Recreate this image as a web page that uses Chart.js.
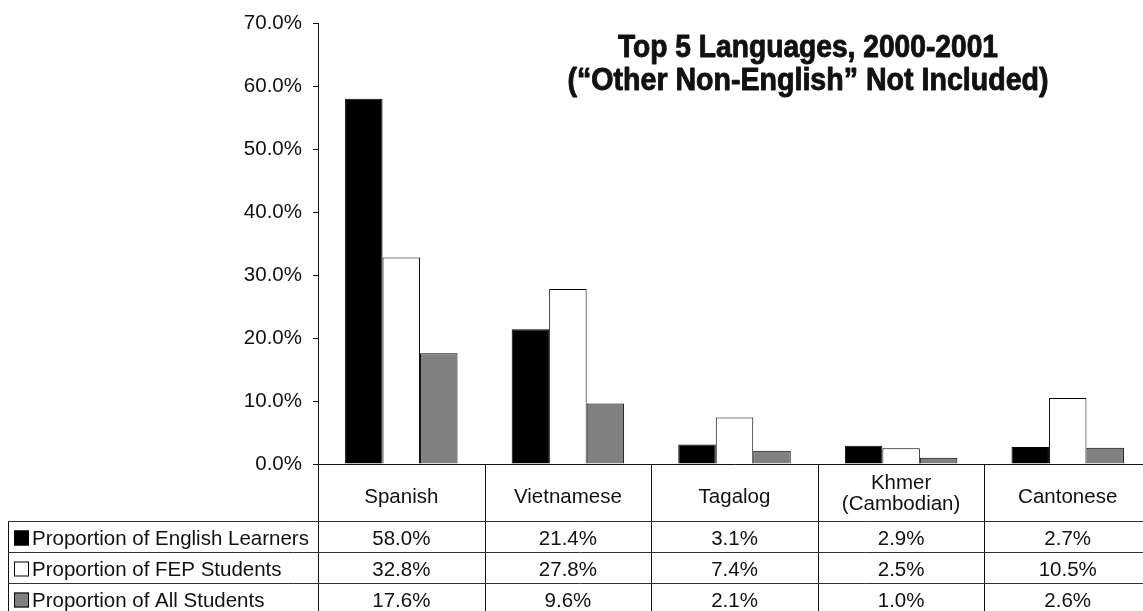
<!DOCTYPE html>
<html>
<head>
<meta charset="utf-8">
<script src="https://cdn.jsdelivr.net/npm/chart.js@4/dist/chart.umd.min.js"></script>
<style>
    html, body { margin: 0; padding: 0; background: #fff; overflow: hidden; }
    #wrap { width: 1160px; height: 611px; }
</style>
</head>
<body>
<div id="wrap"><canvas id="languages-chart"></canvas></div>
<script>
'use strict';

let categories = ['Spanish', 'Vietnamese', 'Tagalog', 'Khmer\n(Cambodian)', 'Cantonese'];
let seriesNames = [
    'Proportion of English Learners',
    'Proportion of FEP Students',
    'Proportion of All Students'
];
let englishLearners = [58.0, 21.4, 3.1, 2.9, 2.7];
let fepStudents = [32.8, 27.8, 7.4, 2.5, 10.5];
let allStudents = [17.6, 9.6, 2.1, 1.0, 2.6];
let seriesColors = ['#000000', '#ffffff', '#808080'];
let titleLines = ['Top 5 Languages, 2000-2001', '(\u201cOther Non-English\u201d Not Included)'];

let fontFamily = '"Liberation Sans", Arial, Helvetica, sans-serif';
let bodyFont = '20.5px ' + fontFamily;

let formatPct = function (v) {
    return v.toFixed(1) + '%';
};

// title sits inside the plot, top right; squeezed to look condensed
let titlePlugin = {
    id: 'insideTitle',
    afterDraw: function (chart) {
        let ctx = chart.ctx,
            cx = 808,
            widths = [380, 481],
            baselines = [57, 90];

        ctx.save();
        ctx.fillStyle = '#111';
        ctx.strokeStyle = '#111';
        ctx.lineWidth = 0.9;
        ctx.lineJoin = 'round';
        ctx.font = 'bold 31px ' + fontFamily;
        ctx.textAlign = 'center';
        ctx.textBaseline = 'alphabetic';
        titleLines.forEach(function (line, i) {
            let w = ctx.measureText(line).width,
                k = widths[i] / w;
            ctx.save();
            ctx.translate(cx, baselines[i]);
            ctx.scale(k, 1);
            ctx.fillText(line, 0, 0);
            ctx.strokeText(line, 0, 0);
            ctx.restore();
        });
        ctx.restore();
    }
};

// data table under the x axis, Excel style
let tablePlugin = {
    id: 'dataTable',
    afterDraw: function (chart) {
        let ctx = chart.ctx,
            area = chart.chartArea,
            xScale = chart.scales.x,
            catW = (area.right - area.left) / categories.length,
            rowTop = 521.5,
            rowH = 31,
            bottom = chart.height;

        ctx.save();
        ctx.strokeStyle = '#111';
        ctx.lineWidth = 1;

        // axis line
        ctx.beginPath();
        ctx.moveTo(area.left, Math.round(area.bottom) + 0.5);
        ctx.lineTo(area.right, Math.round(area.bottom) + 0.5);
        ctx.stroke();

        // column dividers
        for (let i = 0; i <= categories.length; i++) {
            let x = Math.round(area.left + i * catW) + 0.5;
            ctx.beginPath();
            ctx.moveTo(x, area.bottom);
            ctx.lineTo(x, bottom);
            ctx.stroke();
        }

        // legend column border
        ctx.beginPath();
        ctx.moveTo(8.5, rowTop);
        ctx.lineTo(8.5, bottom);
        ctx.stroke();

        ctx.strokeStyle = '#333';
        for (let r = 0; r < seriesNames.length; r++) {
            let y = rowTop + r * rowH;
            ctx.beginPath();
            ctx.moveTo(8, y);
            ctx.lineTo(area.right, y);
            ctx.stroke();
        }

        ctx.fillStyle = '#111';
        ctx.font = bodyFont;
        ctx.textAlign = 'center';
        ctx.textBaseline = 'alphabetic';

        // category names
        categories.forEach(function (name, i) {
            let cx = xScale.getPixelForValue(i),
                parts = name.split('\n');
            if (parts.length === 1) {
                ctx.fillText(parts[0], cx, 503);
            } else {
                ctx.fillText(parts[0], cx, 489);
                ctx.fillText(parts[1], cx, 510);
            }
        });

        // rows
        chart.data.datasets.forEach(function (ds, r) {
            let baseY = rowTop + r * rowH + 23;

            ctx.fillStyle = ds.backgroundColor;
            ctx.fillRect(14, baseY - 14, 15, 15);
            ctx.strokeStyle = '#000';
            ctx.strokeRect(14.5, baseY - 13.5, 14, 14);

            ctx.fillStyle = '#111';
            ctx.textAlign = 'left';
            ctx.fillText(seriesNames[r], 32, baseY);

            ctx.textAlign = 'center';
            ds.data.forEach(function (v, i) {
                ctx.fillText(formatPct(v), xScale.getPixelForValue(i), baseY);
            });
        });

        ctx.restore();
    }
};

let makeDataset = function (idx, values) {
    return {
        label: seriesNames[idx],
        data: values,
        backgroundColor: seriesColors[idx],
        borderColor: '#000',
        borderWidth: 1,
        categoryPercentage: 0.675,
        barPercentage: 1.0
    };
};

let chartData = {
    labels: categories,
    datasets: [
        makeDataset(0, englishLearners),
        makeDataset(1, fepStudents),
        makeDataset(2, allStudents)
    ]
};

let options = {
    responsive: false,
    animation: false,
    devicePixelRatio: 1,
    layout: {
        padding: { left: 0, top: 22, right: 9, bottom: 147 }
    },
    plugins: {
        legend: { display: false },
        title: { display: false },
        tooltip: { enabled: false }
    },
    scales: {
        x: {
            display: false
        },
        y: {
            min: 0,
            max: 70,
            ticks: {
                stepSize: 10,
                color: '#111',
                font: { family: fontFamily, size: 20.5 },
                padding: 11,
                callback: function (v) {
                    return formatPct(v);
                }
            },
            grid: {
                drawOnChartArea: false,
                tickLength: 5,
                color: '#111'
            },
            border: { display: true, color: '#111', width: 1 },
            afterFit: function (scale) {
                scale.width = 318;
            }
        }
    }
};

let canvas = document.getElementById('languages-chart');
canvas.width = 1160;
canvas.height = 611;

new Chart(canvas, {
    type: 'bar',
    data: chartData,
    options: options,
    plugins: [titlePlugin, tablePlugin]
});
</script>
</body>
</html>
